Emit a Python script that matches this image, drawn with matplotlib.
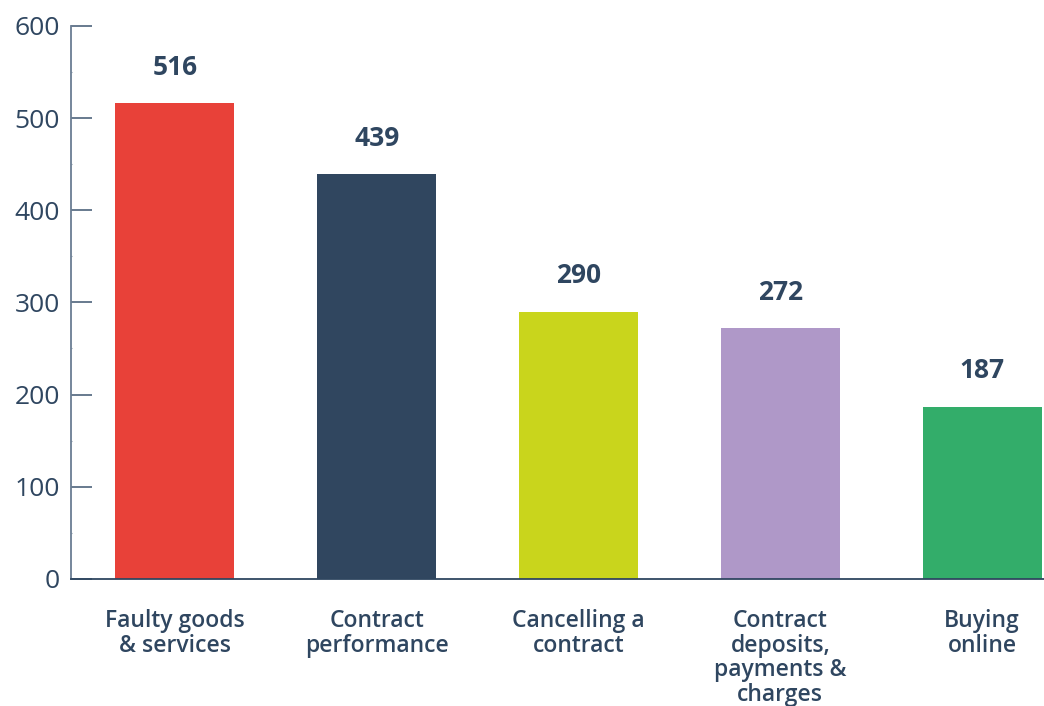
import matplotlib.pyplot as plt
import numpy as np
from matplotlib.ticker import MultipleLocator

categories = ["Faulty goods\n& services", "Contract\nperformance", "Cancelling a\ncontract",
              "Contract\ndeposits,\npayments &\ncharges", "Buying\nonline"]
counts = [516, 439, 290, 272, 187]
colors = ["#e84139", "#30465f", "#c9d51c", "#af98c8", "#33ad6a"]

navy = "#2f4660"
plt.rcParams['font.family'] = ['Open Sans', 'DejaVu Sans']

fig = plt.figure(figsize=(10.44, 7.06), dpi=100)
ax = fig.add_axes([0.068, 0.18, 0.932, 0.7833])

x = np.arange(len(categories))
bars = ax.bar(x, counts, width=0.59, color=colors, zorder=2)

for b, v in zip(bars, counts):
    ax.annotate(str(v), (b.get_x() + b.get_width() / 2, v), xytext=(0, 16),
                textcoords='offset points', ha='center', va='bottom',
                fontsize=19, fontweight='bold', color=navy)

ax.set_xlim(-0.515, 4.307)
ax.set_ylim(0, 600)
ax.set_xticks(x)
ax.set_xticklabels(categories, fontsize=16.5, fontweight='semibold', color=navy,
                   linespacing=1.02, va='top')
ax.yaxis.set_major_locator(MultipleLocator(100))
ax.yaxis.set_minor_locator(MultipleLocator(50))

ax.tick_params(axis='y', direction='in', length=15, width=1.3, color="#5c6f86",
               labelsize=19, labelcolor=navy, pad=8)
ax.tick_params(axis='y', which='minor', direction='in', length=0.8, width=0.8, color="#8a9aab")
ax.tick_params(axis='x', length=0, pad=22)

for s in ['top', 'right']:
    ax.spines[s].set_visible(False)
ax.spines['left'].set_color("#6a7d93")
ax.spines['left'].set_linewidth(1.3)
ax.spines['bottom'].set_color(navy)
ax.spines['bottom'].set_linewidth(1.3)

fig.savefig("out.png", dpi=100)
